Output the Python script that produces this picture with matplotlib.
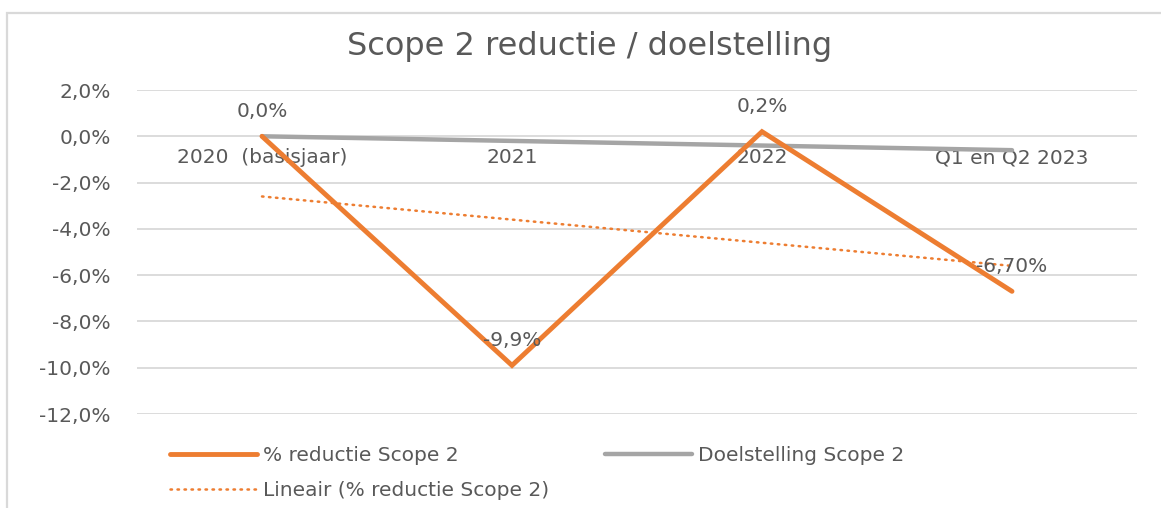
import numpy as np
import matplotlib
matplotlib.use("Agg")
import matplotlib.pyplot as plt
from matplotlib.patches import Rectangle
from matplotlib.ticker import FuncFormatter

plt.rcParams['font.family'] = ['DejaVu Sans']

# --- data ---
categories = ["2020  (basisjaar)", "2021", "2022", "Q1 en Q2 2023"]
reductie = [0.0, -9.9, 0.2, -6.7]          # % reductie Scope 2
doelstelling = [0.0, -0.2, -0.4, -0.6]     # Doelstelling Scope 2
point_labels = ["0,0%", "-9,9%", "0,2%", "-6,70%"]
y_ticks = [2, 0, -2, -4, -6, -8, -10, -12]

ORANGE = '#ED7D31'
GREY = '#A5A5A5'
TXT = '#595959'
GRID = '#D9D9D9'
FS = 14.5

W, H = 1161, 508
fig = plt.figure(figsize=(W / 100, H / 100), dpi=100)

# chart frame (cut off at right / bottom like the screenshot)
fig.patches.append(Rectangle((7 / W, -0.1), 1.2, 1.1 - 13 / H, transform=fig.transFigure,
                             fill=False, edgecolor=GRID, linewidth=1.6))

ax = fig.add_axes([137 / W, (H - 414) / H, 1000 / W, 324 / H])
x = np.arange(len(categories))

# lineaire trendlijn door de reductiewaarden
slope, icpt = np.polyfit(x, reductie, 1)
trend = slope * x + icpt

ax.plot(x, doelstelling, color=GREY, lw=3.2, solid_capstyle='round', zorder=3,
        label="Doelstelling Scope 2")
ax.plot(x, reductie, color=ORANGE, lw=3.5, solid_capstyle='round', solid_joinstyle='miter',
        zorder=4, label="% reductie Scope 2")
ax.plot(x, trend, color=ORANGE, lw=1.8, linestyle=(0, (0.6, 2.2)), dash_capstyle='round',
        zorder=5, label="Lineair (% reductie Scope 2)")

for xi, yi, lab in zip(x, reductie, point_labels):
    ax.annotate(lab, (xi, yi), xytext=(0, 18), textcoords='offset points',
                ha='center', va='center', fontsize=FS, color=TXT, zorder=6)

ax.set_xlim(-0.5, len(categories) - 0.5)
ax.set_ylim(-12, 2)
ax.set_yticks(y_ticks)
ax.yaxis.set_major_formatter(FuncFormatter(lambda v, p: f"{v:.1f}%".replace('.', ',')))
ax.grid(axis='y', color=GRID, lw=1.3)
ax.set_axisbelow(True)

ax.set_xticks(x)
ax.set_xticklabels(categories)
ax.spines['bottom'].set_position(('data', 0))
for s in ax.spines.values():
    s.set_visible(False)
ax.tick_params(axis='x', length=0, pad=8.5, labelsize=FS, labelcolor=TXT)
ax.tick_params(axis='y', length=0, pad=19, labelsize=FS, labelcolor=TXT)

fig.text(590 / W, (H - 47) / H, "Scope 2 reductie / doelstelling", ha='center', va='center',
         fontsize=23, color=TXT)

h, l = ax.get_legend_handles_labels()
order = [1, 2, 0]
fig.legend([h[i] for i in order], [l[i] for i in order], ncol=2, frameon=False,
           loc='upper left', bbox_to_anchor=(170 / W, (H - 446) / H),
           fontsize=FS, labelcolor=TXT, handlelength=4.3, handletextpad=0.3,
           columnspacing=2.8, labelspacing=0.8, borderpad=0, borderaxespad=0)

fig.savefig("out.png", dpi=100)
